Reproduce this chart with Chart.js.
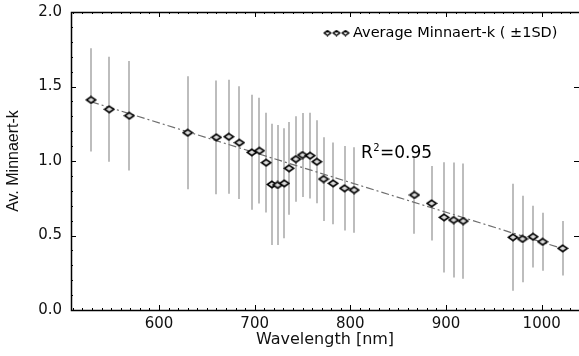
<!DOCTYPE html>
<html>
<head>
<meta charset="utf-8">
<script src="https://cdn.jsdelivr.net/npm/chart.js@4.4.1/dist/chart.umd.min.js"></script>
<style>
  html, body { margin: 0; padding: 0; background: #fff; }
</style>
</head>
<body>
<canvas id="chart" width="579" height="356"></canvas>
<script>
// wavelength of each band (nm) and the average Minnaert-k with its SD
const wavelengths = [529, 548, 569, 630, 660, 673, 684, 697, 705, 712, 718, 724, 731, 736, 743, 750,
  758, 765, 772, 782, 794, 804, 867, 885, 898, 908, 918, 970, 980, 991, 1001, 1022];
const meanK = [1.41, 1.347, 1.304, 1.19, 1.159, 1.163, 1.123, 1.058, 1.069, 0.989, 0.843, 0.839, 0.85, 0.951, 1.013, 1.04,
  1.036, 0.995, 0.879, 0.85, 0.817, 0.805, 0.772, 0.716, 0.622, 0.604, 0.597, 0.488, 0.477, 0.492, 0.458, 0.414];
const sdK = [0.347, 0.352, 0.367, 0.379, 0.382, 0.382, 0.378, 0.386, 0.355, 0.334, 0.407, 0.403, 0.369, 0.311, 0.287, 0.282,
  0.288, 0.278, 0.281, 0.275, 0.283, 0.287, 0.26, 0.25, 0.37, 0.386, 0.387, 0.359, 0.29, 0.207, 0.194, 0.183];

const xTicks = [600, 700, 800, 900, 1000];
const yTicks = [0, 0.5, 1.0, 1.5, 2.0];

// linear fit k = a + b * wavelength
const fitIntercept = 2.456;
const fitSlope = -0.002;
const fitR2 = '0.95';

const legendText = 'Average Minnaert-k ( \u00b11SD)';

const FONT = "'DejaVu Sans', sans-serif";

function diamond(w, h, lw, fill) {
  const c = document.createElement('canvas');
  c.width = w;
  c.height = h;
  const g = c.getContext('2d');
  g.beginPath();
  g.moveTo(w / 2, lw / 2 + 0.5);
  g.lineTo(w - lw / 2 - 0.5, h / 2);
  g.lineTo(w / 2, h - lw / 2 - 0.5);
  g.lineTo(lw / 2 + 0.5, h / 2);
  g.closePath();
  g.fillStyle = fill;
  g.fill();
  g.lineWidth = lw;
  g.strokeStyle = '#000';
  g.stroke();
  return c;
}

const bigDiamond = diamond(12, 9, 1.6, '#dadada');
const smallDiamond = diamond(9, 7, 1.3, '#fff');

// error bars, frame, inward ticks, legend and R2 label
const decorations = {
  id: 'decorations',
  beforeDatasetsDraw(chart) {
    const { ctx, scales: { x, y } } = chart;
    ctx.save();
    ctx.strokeStyle = '#bdbdbd';
    ctx.lineWidth = 2;
    wavelengths.forEach((w, i) => {
      const px = Math.round(x.getPixelForValue(w));
      ctx.beginPath();
      ctx.moveTo(px, y.getPixelForValue(meanK[i] - sdK[i]));
      ctx.lineTo(px, y.getPixelForValue(meanK[i] + sdK[i]));
      ctx.stroke();
    });
    ctx.restore();
  },
  afterDraw(chart) {
    const { ctx, chartArea: a, scales: { x, y } } = chart;
    ctx.save();
    ctx.strokeStyle = '#000';
    ctx.lineWidth = 1;
    ctx.beginPath();
    for (let v = 510; v <= 1030; v += 10) {
      const px = Math.round(x.getPixelForValue(v)) + 0.5;
      const len = xTicks.includes(v) ? 5 : 2;
      ctx.moveTo(px, a.bottom); ctx.lineTo(px, a.bottom - len);
      ctx.moveTo(px, a.top); ctx.lineTo(px, a.top + len);
    }
    for (let k = 1; k < 20; k++) {
      const py = Math.round(y.getPixelForValue(k / 10)) + 0.5;
      const major = k % 5 === 0;
      ctx.moveTo(a.left, py); ctx.lineTo(a.left + (major ? 5 : 2), py);
      if (major) { ctx.moveTo(a.right, py); ctx.lineTo(a.right - 5, py); }
    }
    ctx.stroke();
    // frame: the right edge falls just outside the canvas
    ctx.lineWidth = 1.5;
    ctx.strokeRect(a.left + 0.5, a.top + 0.5, a.right - a.left + 1, a.bottom - a.top);

    // legend
    const ly = a.top + 21;
    const lx = a.left + 252;
    [0, 9, 18].forEach((dx) => ctx.drawImage(smallDiamond, lx + dx, ly - 3.5));
    ctx.fillStyle = '#000';
    ctx.font = '14.5px ' + FONT;
    ctx.textBaseline = 'middle';
    ctx.fillText(legendText, lx + 30, ly);

    // R^2 annotation
    const rx = x.getPixelForValue(811);
    const ry = y.getPixelForValue(1.02);
    ctx.textBaseline = 'alphabetic';
    ctx.font = '17px ' + FONT;
    ctx.fillText('R', rx, ry);
    const rw = ctx.measureText('R').width;
    ctx.font = '10px ' + FONT;
    ctx.fillText('2', rx + rw + 0.5, ry - 7);
    const sw = ctx.measureText('2').width;
    ctx.font = '17px ' + FONT;
    ctx.fillText('=' + fitR2, rx + rw + sw + 1, ry);
    ctx.restore();
  },
};

const fitX = [wavelengths[0], wavelengths[wavelengths.length - 1]];

function noPad(s) {
  s.paddingTop = 0;
  s.paddingBottom = 0;
  s.paddingLeft = 0;
  s.paddingRight = 0;
}

new Chart(document.getElementById('chart'), {
  type: 'scatter',
  data: {
    datasets: [
      {
        label: legendText,
        data: wavelengths.map((w, i) => ({ x: w, y: meanK[i] })),
        pointStyle: bigDiamond,
        pointRadius: 6,
        order: 1,
      },
      {
        label: 'fit',
        type: 'line',
        data: fitX.map((w) => ({ x: w, y: fitIntercept + fitSlope * w })),
        borderColor: '#6e6e6e',
        borderWidth: 1.2,
        borderDash: [8, 3, 2, 3],
        pointRadius: 0,
        fill: false,
        order: 2,
      },
    ],
  },
  options: {
    responsive: false,
    animation: false,
    devicePixelRatio: 1,
    layout: { autoPadding: false, padding: { top: 12, right: 0, left: 0, bottom: 0 } },
    plugins: {
      legend: { display: false },
      tooltip: { enabled: false },
    },
    scales: {
      x: {
        type: 'linear',
        min: 508,
        max: 1039,
        afterBuildTicks: (s) => { s.ticks = xTicks.map((v) => ({ value: v })); },
        afterFit: (s) => { s.height = 46; noPad(s); },
        grid: { display: false, drawTicks: false },
        border: { display: false },
        ticks: { color: '#111', padding: 5, font: { family: FONT, size: 15 }, callback: (v) => String(v) },
        title: {
          display: true,
          text: 'Wavelength [nm]',
          color: '#111',
          padding: { top: 0, bottom: 7 },
          font: { family: FONT, size: 16 },
        },
      },
      y: {
        min: 0,
        max: 2,
        afterBuildTicks: (s) => { s.ticks = yTicks.map((v) => ({ value: v })); },
        afterFit: (s) => { s.width = 71; noPad(s); },
        grid: { display: false, drawTicks: false },
        border: { display: false },
        ticks: {
          color: '#111',
          padding: 9,
          font: { family: FONT, size: 15 },
          callback: (v) => v.toFixed(1),
        },
        title: {
          display: true,
          text: 'Av. Minnaert-k',
          color: '#111',
          padding: { top: 4, bottom: 0 },
          font: { family: "'Liberation Sans', Arial, sans-serif", size: 16 },
        },
      },
    },
  },
  plugins: [decorations],
});
</script>
</body>
</html>
